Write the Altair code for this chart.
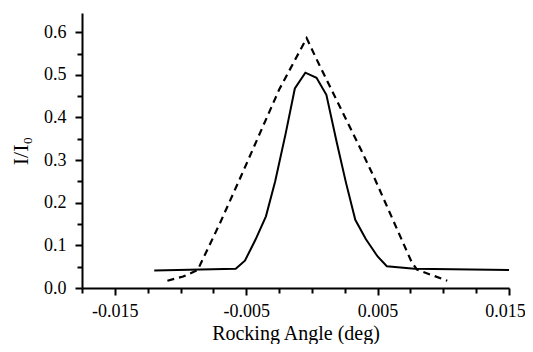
import altair as alt
import pandas as pd

# Solid curve
solid_x = [-0.0120, -0.0058, -0.0051, -0.0043, -0.0035, -0.0028, -0.0020, -0.0013,
           -0.0005, 0.00035, 0.0011, 0.0019, 0.0026, 0.0033, 0.0041, 0.0050,
           0.0057, 0.0078, 0.0150]
solid_y = [0.041, 0.045, 0.064, 0.113, 0.168, 0.250, 0.362, 0.468,
           0.505, 0.493, 0.453, 0.340, 0.246, 0.160, 0.115, 0.074,
           0.051, 0.045, 0.042]

# Dashed curve
dashed_x = [-0.0110, -0.0098, -0.0087, -0.0070, -0.0054, -0.0025, -0.0004,
            0.0003, 0.0038, 0.0048, 0.0076, 0.0080, 0.0103]
dashed_y = [0.017, 0.027, 0.042, 0.152, 0.262, 0.465, 0.586,
            0.540, 0.320, 0.255, 0.060, 0.043, 0.017]

x_ticks = [-0.0175, -0.015, -0.0125, -0.01, -0.0075, -0.005, -0.0025, 0.0,
           0.0025, 0.005, 0.0075, 0.01, 0.0125, 0.015]
y_ticks = [0.0, 0.05, 0.1, 0.15, 0.2, 0.25, 0.3, 0.35, 0.4, 0.45, 0.5, 0.55, 0.6]

solid_df = pd.DataFrame({"x": solid_x, "y": solid_y})
dashed_df = pd.DataFrame({"x": dashed_x, "y": dashed_y})

FONT = "'Liberation Serif', 'Times New Roman', Times, serif"

x_major = "abs(round((datum.value+0.005)*100) - (datum.value+0.005)*100) < 0.01"
y_major = "abs(round(datum.value*10) - datum.value*10) < 0.01"

x_axis = alt.Axis(
    values=x_ticks,
    title="Rocking Angle (deg)",
    labelExpr=f"{x_major} ? replace(format(datum.value, '.3f'), '\u2212', '-') : ''",
    tickSize={"condition": {"test": x_major, "value": 7}, "value": 5},
    labelOffset={"condition": {"test": "datum.value > 0.014", "value": -4}, "value": 0},
    labelPadding=7,
    titlePadding=3,
    labelFlush=False,
    labelOverlap=False,
    labelFont=FONT,
    titleFont=FONT,
)
y_axis = alt.Axis(
    values=y_ticks,
    title="I/I\u2080",
    labelExpr=f"{y_major} ? format(datum.value, '.1f') : ''",
    tickSize={"condition": {"test": y_major, "value": 7}, "value": 5},
    labelPadding=9,
    titlePadding=11,
    labelOverlap=False,
    labelFont=FONT,
    titleFont=FONT,
    titleFontSize=22,
)

x_enc = alt.X("x:Q", scale=alt.Scale(domain=[-0.0175, 0.015], nice=False, zero=False), axis=x_axis)
y_enc = alt.Y("y:Q", scale=alt.Scale(domain=[0, 0.645], nice=False), axis=y_axis)

solid = alt.Chart(solid_df).mark_line(color="black", strokeWidth=2).encode(x=x_enc, y=y_enc)
dashed = alt.Chart(dashed_df).mark_line(color="black", strokeWidth=2.2, strokeDash=[7, 5]).encode(x=x_enc, y=y_enc)

chart = (
    alt.layer(solid, dashed)
    .properties(
        width=427,
        height=275,
        autosize=alt.AutoSizeParams(type="none"),
        padding={"left": 74, "top": 5, "right": 16, "bottom": 56},
    )
    .configure_view(stroke=None)
    .configure_axis(
        grid=False,
        domainColor="black",
        domainWidth=2,
        tickColor="black",
        tickWidth=2,
        labelFont=FONT,
        labelFontSize=18,
        labelColor="black",
        titleFont=FONT,
        titleFontSize=20,
        titleFontWeight="normal",
        titleColor="black",
    )
)

chart.save("out.html", embed_options={"renderer": "svg", "actions": False})
